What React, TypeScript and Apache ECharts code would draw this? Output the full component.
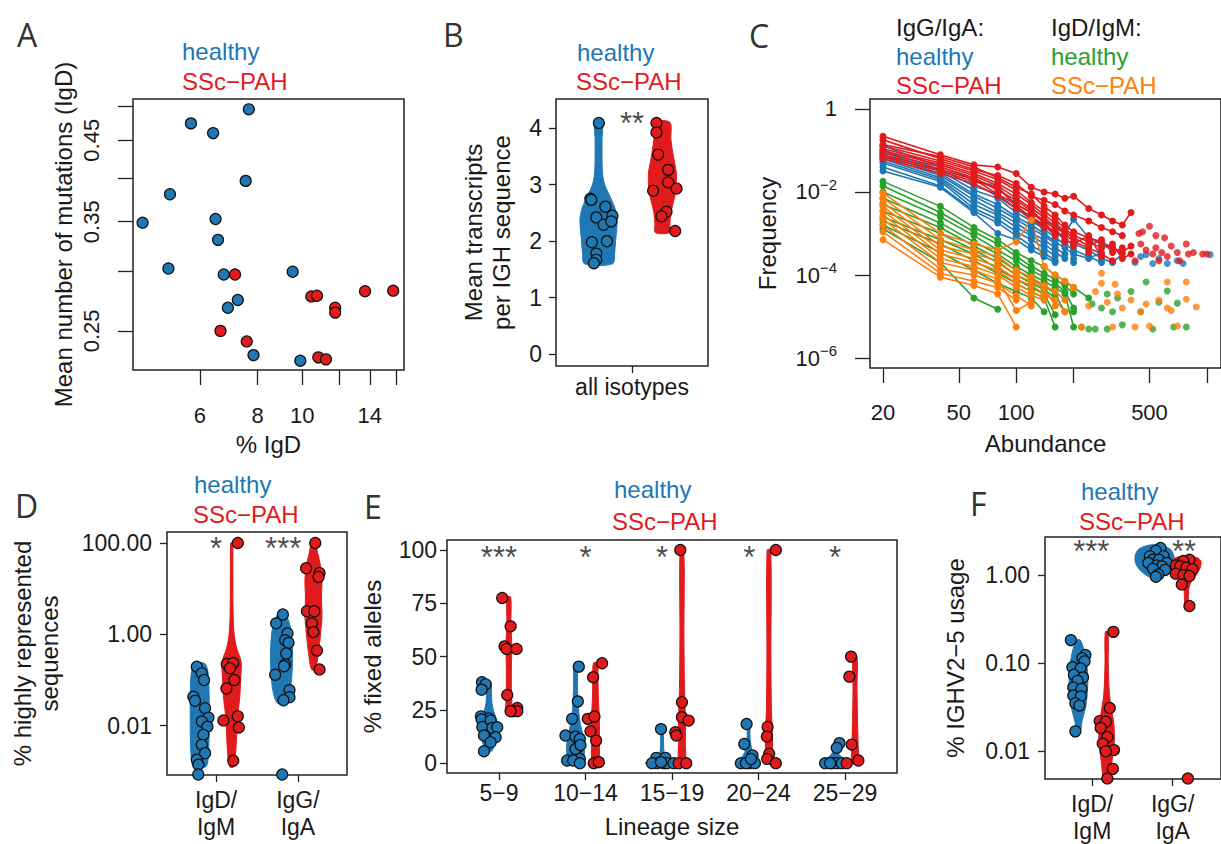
import React, { useEffect, useRef } from "react";
import * as echarts from "echarts";

// ---------------- colours / fonts ----------------
const BLUE = "#1f78b4";
const RED = "#e31a1c";
const GREEN = "#2ca02c";
const ORANGE = "#ff7f0e";
const INK = "#1a1a1a";
const FONT = "'Liberation Sans', Arial, Helvetica, sans-serif";

// ---------------- Panel A: % IgD vs mean mutations (log-log) ----------------
const A_HEALTHY = [
  [7.66, 0.495], [5.74, 0.474], [6.41, 0.46], [7.54, 0.397], [5.17, 0.381],
  [4.51, 0.349], [6.49, 0.353], [6.57, 0.331], [5.13, 0.303], [6.76, 0.2975],
  [9.53, 0.3], [7.25, 0.275], [6.9, 0.2685], [7.84, 0.232], [9.9, 0.228],
];
const A_SSC = [
  [7.15, 0.2975], [6.65, 0.25], [7.58, 0.242], [10.46, 0.278], [10.76, 0.2786],
  [11.78, 0.2685], [11.78, 0.2645], [13.67, 0.2825], [15.73, 0.283], [10.83, 0.2304],
  [11.25, 0.229],
];
const A_X_TICKS = [6, 8, 10, 12, 14, 16];
const A_X_LABELS = [6, 8, 10, 14];
const A_Y_TICKS = [0.25, 0.3, 0.35, 0.4, 0.45, 0.5];
const A_Y_LABELS = [0.25, 0.35, 0.45];

// ---------------- Panel B: mean transcripts per IGH sequence ----------------
const B_HEALTHY = [
  [0.782, 4.09], [0.726, 2.75], [0.732, 2.73], [0.825, 2.61], [0.765, 2.42],
  [0.871, 2.45], [0.813, 2.29], [0.864, 2.35], [0.736, 1.98], [0.835, 2.0],
  [0.765, 1.78], [0.765, 1.67], [0.749, 1.61],
];
const B_SSC = [
  [1.161, 4.09], [1.161, 3.92], [1.172, 3.53], [1.238, 3.26], [1.238, 3.04],
  [1.293, 2.93], [1.139, 2.89], [1.227, 2.52], [1.194, 2.44], [1.284, 2.18],
];
const B_VIOLIN_HEALTHY = [
  [1.6, 0.092], [1.8, 0.106], [2.0, 0.112], [2.2, 0.119], [2.4, 0.122], [2.6, 0.106],
  [2.8, 0.073], [3.0, 0.04], [3.2, 0.026], [3.5, 0.023], [3.8, 0.023], [4.1, 0.023],
];
const B_VIOLIN_SSC = [
  [2.15, 0.046], [2.3, 0.049], [2.5, 0.056], [2.7, 0.073], [2.9, 0.089], [3.2, 0.092],
  [3.4, 0.079], [3.6, 0.066], [3.8, 0.056], [4.1, 0.049],
];
const B_CENTERS = [0.78, 1.2];
const B_Y_TICKS = [0, 1, 2, 3, 4];
const B_STARS = [["**", 1.0, 4.083]];

// ---------------- Panel C: frequency vs abundance ----------------
const C_ABUNDANCE = [20, 40, 60, 80, 100, 120, 140, 160, 180, 200, 240, 280, 320, 360, 400];
const C_IGG_HEALTHY = [
  [1.3e-1, 4.0e-2, 2.0e-2, 1.3e-2, 5.0e-3, 3.2e-3, 2.0e-3, 1.6e-3, 1.0e-3, 2.2e-3, 7.9e-4, 5.6e-4, 4.0e-4],
  [1.0e-1, 3.5e-2, 1.4e-2, 8.9e-3, 4.0e-3, 2.5e-3, 1.4e-3, 1.1e-3, 7.1e-4, 5.6e-4, 4.0e-4, 2.5e-4, 2.0e-4, 3.2e-4],
  [8.9e-2, 3.2e-2, 1.1e-2, 7.1e-3, 3.2e-3, 2.0e-3, 1.3e-3, 7.9e-4, 5.6e-4, 4.0e-4, 2.8e-4, 2.0e-4],
  [7.9e-2, 2.8e-2, 8.9e-3, 5.0e-3, 2.5e-3, 1.6e-3, 1.0e-3, 6.3e-4, 4.5e-4, 3.2e-4, 2.5e-4, 3.5e-4],
  [7.1e-2, 2.5e-2, 7.9e-3, 4.0e-3, 2.2e-3, 1.3e-3, 8.9e-4, 5.6e-4, null, 2.5e-4],
  [6.3e-2, 2.2e-2, 6.3e-3, 3.2e-3, 1.8e-3, 1.0e-3, 7.1e-4, 4.5e-4, 3.2e-4],
  [5.6e-2, 2.0e-2, 5.0e-3, 2.8e-3, 1.4e-3, 8.9e-4, 5.6e-4, 3.5e-4, 2.5e-4],
  [5.0e-2, 1.8e-2, 4.0e-3, 2.2e-3, 1.1e-3, 7.1e-4, 4.5e-4, 2.8e-4, null, 2.0e-4],
  [4.0e-2, 1.4e-2, 3.5e-3, 1.8e-3, 8.9e-4, 5.0e-4, 3.5e-4, 2.2e-4],
  [3.2e-2, 1.3e-2, 3.2e-3, 1.0e-3, 7.1e-4, 4.0e-4, 2.8e-4, 2.0e-4],
];
const C_IGG_SSC = [
  [2.2e-1, 7.9e-2, 4.5e-2, 4.0e-2, 2.8e-2, 1.3e-2, 1.0e-2, 8.9e-3, 7.1e-3, 7.9e-3, 4.0e-3, 2.8e-3, 2.0e-3, 1.6e-3, 3.2e-3],
  [1.8e-1, 6.3e-2, 3.5e-2, 2.5e-2, 1.6e-2, 7.9e-3, 6.3e-3, 5.0e-3, 3.5e-3, 2.8e-3, 2.0e-3, 1.4e-3, 1.1e-3, 8.9e-4],
  [1.4e-1, 7.1e-2, 4.0e-2, 2.2e-2, 1.3e-2, 8.9e-3, 4.5e-3, 2.8e-3, 1.6e-3, 1.1e-3, 7.9e-4, 6.3e-4, 4.5e-4, 3.5e-4, 5.0e-4],
  [1.3e-1, 5.6e-2, 3.2e-2, 2.0e-2, 1.1e-2, 5.6e-3, 3.5e-3, 2.2e-3, 1.3e-3, 8.9e-4, 6.3e-4, 4.5e-4, 5.6e-4, 2.5e-4, 3.2e-4],
  [1.1e-1, 5.0e-2, 2.8e-2, 1.6e-2, 8.9e-3, 5.0e-3, 2.8e-3, 1.8e-3, 1.1e-3, 7.9e-4, 5.0e-4, 7.1e-4, 3.5e-4, 4.5e-4],
  [1.0e-1, 4.5e-2, 2.5e-2, 1.4e-2, 7.1e-3, 4.0e-3, 2.5e-3, 1.4e-3, 1.0e-3, 6.3e-4, 4.5e-4, 3.2e-4, 2.2e-4],
  [8.9e-2, 4.0e-2, 2.2e-2, 1.1e-2, 6.3e-3, 3.5e-3, 2.0e-3, 1.3e-3, 7.1e-4, 5.6e-4, 8.9e-4, 2.8e-4],
  [7.9e-2, 3.5e-2, 2.0e-2, 8.9e-3, 5.0e-3, 3.2e-3, 1.8e-3, 1.0e-3, 8.9e-4, null, 3.5e-4],
  [7.1e-2, 3.2e-2, 1.8e-2, 1.3e-2, 4.5e-3, 2.5e-3, 1.6e-3, 8.9e-4, null, 5.0e-4],
  [6.3e-2, 2.8e-2, 1.6e-2, 7.9e-3, 4.0e-3, 2.2e-3, 1.4e-3, null, 6.3e-4],
];
const C_IGD_HEALTHY = [
  [1.8e-2, 4.5e-3, 1.4e-3, 7.1e-4, 3.5e-4, 2.2e-4, 1.6e-4, 1.0e-4, 7.1e-5, 5.0e-5, 2.8e-5],
  [1.4e-2, 3.2e-3, 1.1e-3, 5.6e-4, 2.8e-4, 1.6e-4, 1.1e-4, 7.9e-5, 5.6e-5, 3.5e-5],
  [1.0e-2, 2.5e-3, 8.9e-4, 4.0e-4, 2.2e-4, 1.3e-4, 8.9e-5, 6.3e-5, 4.0e-5, 1.6e-5],
  [7.1e-3, 1.8e-3, 6.3e-4, 3.2e-4, 1.6e-4, 1.0e-4, 7.1e-5, 5.0e-5, 3.5e-5, 5.6e-6],
  [5.0e-3, 1.4e-3, 5.0e-4, 2.5e-4, 1.3e-4, 7.9e-5, 5.6e-5, 3.5e-5, 1.3e-5],
  [3.5e-3, 1.0e-3, 4.0e-4, 2.0e-4, 1.0e-4, 6.3e-5, 4.5e-5, 2.8e-5, null, 1.3e-5],
  [2.5e-3, 7.1e-4, 3.2e-4, 1.4e-4, 7.9e-5, 5.0e-5, 3.5e-5, 1.1e-5],
  [2.0e-3, 5.6e-4, 2.2e-4, 1.1e-4, 6.3e-5, 4.0e-5, 2.8e-5, 5.6e-6],
  [1.6e-3, 3.5e-4, 1.3e-4, 6.3e-5, 4.0e-5, 2.8e-5, 1.3e-5],
  [1.3e-3, 2.0e-4, 2.8e-5, 1.5e-5],
];
const C_IGD_SSC = [
  [9.5e-3, 1.0e-3, 5.6e-4, 4.0e-4, 6.3e-4, 2.1e-3, 1.6e-4, 1.0e-4, 7.1e-5, 5.0e-5],
  [7.1e-3, 7.1e-4, 4.0e-4, 2.8e-4, 1.3e-4, 8.9e-5, 5.6e-5, 4.0e-5, 2.5e-5],
  [5.6e-3, 5.0e-4, 3.2e-4, 2.2e-4, 1.0e-4, 7.1e-5, 5.0e-5, 1.8e-5],
  [4.5e-3, 4.0e-4, 2.5e-4, 1.6e-4, 7.9e-5, 5.6e-5, 3.5e-5, 2.5e-5, 1.3e-5],
  [3.5e-3, 3.2e-4, 2.0e-4, 1.3e-4, 6.3e-5, 4.0e-5, 2.8e-5],
  [2.8e-3, 2.5e-4, 1.6e-4, 1.0e-4, 5.0e-5, 3.2e-5, 2.5e-5],
  [2.2e-3, 2.0e-4, 1.3e-4, 7.9e-5, 1.4e-5, 2.2e-5],
  [1.6e-3, 1.4e-4, 1.0e-4, 6.3e-5, 3.2e-5, 1.8e-5],
  [1.1e-3, 1.1e-4, 7.1e-5, 5.0e-5, 2.5e-5],
  [7.1e-4, 8.9e-5, 5.6e-5, 3.5e-5, 5.6e-6],
];
const C_IGG_HEALTHY_TAIL = [
  [420, 2.0e-4], [450, 2.8e-4], [480, 3.1e-4], [520, 1.9e-4], [560, 2.5e-4],
  [620, 1.9e-4], [700, 2.2e-4], [750, 1.9e-4], [1040, 3.1e-4],
];
const C_IGG_SSC_TAIL = [
  [420, 2.2e-4], [440, 1.0e-3], [450, 5.6e-4], [460, 1.1e-3], [480, 4.0e-4], [500, 1.5e-3],
  [520, 3.2e-4], [540, 4.5e-4], [540, 8.9e-4], [560, 2.2e-4], [580, 3.5e-4], [600, 7.9e-4],
  [620, 2.8e-4], [650, 5.0e-4], [700, 3.5e-4], [720, 2.2e-4], [780, 5.6e-4], [800, 3.2e-4],
  [850, 3.5e-4], [950, 3.2e-4], [1000, 3.2e-4],
];
const C_IGD_HEALTHY_TAIL = [
  [220, 5.6e-6], [240, 5.0e-6], [250, 2.0e-5], [260, 5.0e-6], [280, 1.6e-5], [300, 5.0e-6],
  [300, 3.5e-5], [320, 1.3e-5], [340, 2.8e-5], [360, 6.3e-6], [400, 4.0e-5], [450, 1.3e-5],
  [480, 6.8e-5], [520, 5.0e-6], [560, 2.2e-5], [620, 4.1e-5], [670, 5.6e-6], [700, 2.1e-5],
  [780, 5.6e-6],
];
const C_IGD_SSC_TAIL = [
  [220, 5.6e-6], [240, 1.8e-5], [260, 4.0e-5], [280, 6.3e-5], [280, 1.1e-4], [300, 2.2e-5],
  [320, 5.6e-6], [330, 6.0e-5], [340, 3.5e-5], [360, 1.6e-5], [400, 2.5e-5], [420, 5.6e-6],
  [450, 1.3e-5], [480, 2.0e-5], [500, 5.9e-6], [560, 2.5e-5], [620, 6.8e-5], [620, 1.6e-5],
  [650, 1.4e-5], [700, 5.9e-6], [780, 6.8e-5], [780, 2.6e-5], [880, 1.7e-5],
];
const C_X_TICKS = [20, 50, 100, 200, 500, 1000];
const C_X_LABELS = [20, 50, 100, 500];
const C_Y_TICKS = [1e-6, 1e-4, 1e-2, 1];

// ---------------- Panel D: % highly represented sequences ----------------
const D_CATEGORIES = ["IgD/\nIgM", "IgG/\nIgA"];
const D_IGD_HEALTHY = [
  [0.764, 0.195], [0.825, 0.14], [0.853, 0.1], [0.722, 0.043], [0.743, 0.035],
  [0.865, 0.024], [0.906, 0.015], [0.825, 0.0123], [0.894, 0.0095], [0.845, 0.0063],
  [0.825, 0.0038], [0.865, 0.0025], [0.764, 0.0018], [0.783, 0.0014], [0.783, 0.00085],
];
const D_IGD_SSC = [
  [1.265, 100], [1.13, 0.224], [1.21, 0.234], [1.17, 0.18], [1.224, 0.1],
  [1.126, 0.065], [1.09, 0.013], [1.265, 0.016], [1.278, 0.0091], [1.21, 0.0017],
];
const D_IGG_HEALTHY = [
  [1.816, 2.72], [1.734, 1.74], [1.873, 1.05], [1.845, 0.74], [1.885, 0.65],
  [1.857, 0.38], [1.722, 0.13], [1.845, 0.22], [1.83, 0.2], [1.897, 0.06],
  [1.897, 0.042], [1.824, 0.036], [1.808, 0.00085],
];
const D_IGG_SSC = [
  [2.212, 100], [2.1, 28], [2.264, 22], [2.252, 18], [2.11, 3.2],
  [2.2, 3.2], [2.171, 1.74], [2.19, 1.12], [2.233, 0.44], [2.264, 0.17],
];
const D_VIOLIN_IGD_HEALTHY = [[0.23, 0.061], [0.16, 0.098], [0.1, 0.11], [0.03, 0.116], [0.01, 0.116], [0.003, 0.11], [0.0016, 0.098], [0.00125, 0.073]];
const D_VIOLIN_IGD_SSC = [[100, 0.012], [30, 0.015], [3, 0.018], [1, 0.031], [0.5, 0.061], [0.25, 0.116], [0.1, 0.11], [0.04, 0.098], [0.016, 0.073], [0.006, 0.061], [0.0025, 0.049], [0.00125, 0.024]];
const D_VIOLIN_IGG_HEALTHY = [[3.1, 0.024], [2, 0.086], [1, 0.122], [0.3, 0.135], [0.1, 0.122], [0.05, 0.098], [0.031, 0.049]];
const D_VIOLIN_IGG_SSC = [[100, 0.024], [63, 0.049], [31.6, 0.086], [15.8, 0.104], [6.3, 0.098], [2.5, 0.104], [1, 0.086], [0.4, 0.061], [0.17, 0.024]];
const D_VIOLIN_CENTERS = [0.8, 1.19, 1.8, 2.19];
const D_Y_TICKS = [0.01, 1, 100];
const D_STARS = [["*", 1.0, 77.6], ["***", 1.82, 77.6]];

// ---------------- Panel E: % fixed alleles by lineage size ----------------
const E_CATEGORIES = ["5−9", "10−14", "15−19", "20−24", "25−29"];
const E_HEALTHY = [
  [0.804, 38], [0.846, 37], [0.8, 34.5], [0.792, 22], [0.885, 21], [0.8, 20.5], [0.904, 20],
  [0.808, 17], [0.923, 16.5], [0.981, 16.9], [0.827, 13], [0.962, 12.2], [0.904, 9.8], [0.827, 5.6],
  [1.923, 45.3], [1.912, 29], [1.846, 20.8], [1.769, 13], [1.885, 12.5], [1.935, 11.4], [1.912, 7.5],
  [1.885, 6.7], [1.942, 8.5], [1.788, 1.25], [1.935, 2], [1.858, 1.25], [1.935, 0],
  [2.873, 16], [2.819, 2.5], [2.923, 2.5], [2.827, 0], [2.904, 0], [2.942, 0], [2.769, 0], [3.019, 0], [2.873, 0.5],
  [3.862, 18.4], [3.835, 9], [3.931, 3.6], [3.796, 0], [3.892, 0], [3.958, 0], [3.854, 0], [3.912, 2],
  [4.935, 9.4], [4.904, 7.2], [4.769, 0], [4.846, 0], [4.904, 0], [4.962, 0], [4.827, 0],
];
const E_SSC = [
  [1.038, 77.5], [1.135, 64.2], [1.065, 54.8], [1.088, 53.6], [1.204, 53.6], [1.096, 32],
  [1.212, 25.9], [1.154, 24.4], [1.212, 24.4], [1.135, 24.4],
  [2.192, 46.9], [2.088, 40.3], [2.027, 20.8], [2.104, 21.9], [2.058, 15], [2.123, 10.6], [2.096, 0], [2.154, 0.5],
  [3.096, 100], [3.115, 28.6], [3.115, 21.6], [3.192, 20], [3.038, 14.5], [3.05, 13], [3.077, 0], [3.165, 0],
  [4.2, 100], [4.104, 17], [4.096, 12.5], [4.123, 4.4], [4.1, 2], [4.2, 0],
  [5.069, 50], [5.05, 40.6], [5.077, 8.75], [5.154, 1.25], [5.019, 0],
];
const E_VIOLINS_HEALTHY = [
  [[38, 0.023], [33, 0.029], [28, 0.035], [24, 0.058], [20, 0.092], [16, 0.104], [12, 0.092], [8, 0.058], [5.6, 0.029]],
  [[46, 0.017], [35, 0.023], [25, 0.035], [18, 0.058], [12, 0.092], [6, 0.104], [2, 0.092], [0, 0.069]],
  [[16, 0.012], [10, 0.017], [5, 0.023], [3, 0.04], [2, 0.081], [1, 0.138], [0, 0.196]],
  [[18, 0.012], [12, 0.017], [8, 0.029], [5, 0.046], [2.5, 0.081], [1, 0.115], [0, 0.127]],
  [[9, 0.012], [6, 0.023], [4, 0.046], [2.5, 0.092], [1, 0.138], [0, 0.15]],
];
const E_VIOLINS_SSC = [
  [[78, 0.021], [65, 0.023], [55, 0.035], [45, 0.029], [35, 0.029], [28, 0.035], [24, 0.035]],
  [[47, 0.023], [40, 0.029], [30, 0.035], [20, 0.046], [10, 0.046], [0, 0.035]],
  [[100, 0.021], [60, 0.023], [35, 0.029], [20, 0.04], [10, 0.04], [0, 0.035]],
  [[100, 0.021], [50, 0.023], [25, 0.029], [15, 0.04], [5, 0.04], [0, 0.029]],
  [[50, 0.023], [35, 0.023], [20, 0.029], [10, 0.035], [0, 0.035]],
];
const E_CENTERS_HEALTHY = [0.885, 1.885, 2.885, 3.885, 4.885];
const E_CENTERS_SSC = [1.115, 2.115, 3.115, 4.12, 5.115];
const E_Y_TICKS = [0, 25, 50, 75, 100];
const E_STARS = [["***", 1.0, 96.6], ["*", 2.0, 96.6], ["*", 2.885, 96.6], ["*", 3.892, 96.6], ["*", 4.885, 96.6]];

// ---------------- Panel F: % IGHV2-5 usage ----------------
const F_CATEGORIES = ["IgD/\nIgM", "IgG/\nIgA"];
const F_IGD_HEALTHY = [
  [0.736, 0.183], [0.917, 0.124], [0.879, 0.114], [0.906, 0.105], [0.755, 0.09], [0.857, 0.087],
  [0.774, 0.074], [0.887, 0.069], [0.819, 0.063], [0.766, 0.053], [0.868, 0.051], [0.766, 0.043],
  [0.86, 0.042], [0.792, 0.035], [0.842, 0.033], [0.792, 0.0168],
];
const F_IGD_SSC = [
  [1.264, 0.227], [1.219, 0.031], [1.094, 0.022], [1.17, 0.0216], [1.106, 0.0184], [1.189, 0.0145],
  [1.132, 0.0122], [1.272, 0.0103], [1.17, 0.01], [1.257, 0.0063], [1.189, 0.0049],
];
const F_IGG_HEALTHY = [
  [1.849, 2.04], [1.792, 1.9], [1.887, 1.64], [1.717, 1.64], [1.755, 1.5], [1.83, 1.5], [1.698, 1.38],
  [1.925, 1.38], [1.8, 1.29], [1.868, 1.26], [1.755, 1.18], [1.906, 1.15], [1.823, 1.02], [1.792, 0.96],
];
const F_IGG_SSC = [
  [2.208, 1.5], [2.132, 1.45], [2.038, 1.29], [2.094, 1.26], [2.17, 1.22], [2.245, 1.17],
  [2.038, 1.04], [2.132, 1.0], [2.208, 0.98], [2.113, 0.785], [2.208, 0.447], [2.189, 0.0049],
];
const F_VIOLIN_IGD_HEALTHY = [[0.183, 0.023], [0.13, 0.079], [0.08, 0.113], [0.05, 0.113], [0.032, 0.09], [0.022, 0.045], [0.0168, 0.023]];
const F_VIOLIN_IGD_SSC = [[0.227, 0.017], [0.1, 0.02], [0.045, 0.034], [0.032, 0.057], [0.02, 0.09], [0.0126, 0.096], [0.0079, 0.068], [0.0049, 0.034]];
const F_VIOLIN_IGG_HEALTHY = [[2.2, 0.06], [2.0, 0.19], [1.7, 0.238], [1.4, 0.238], [1.2, 0.2], [1.05, 0.136], [0.95, 0.057]];
const F_VIOLIN_IGG_SSC = [[1.6, 0.12], [1.45, 0.18], [1.2, 0.17], [1.0, 0.12], [0.85, 0.06], [0.7, 0.03], [0.5, 0.023], [0.447, 0.017]];
const F_VIOLIN_CENTERS = [0.83, 1.18, 1.774, 2.17];
const F_Y_TICKS = [0.01, 0.1, 1];
const F_STARS = [["***", 0.99, 1.85], ["**", 2.14, 1.85]];

// ---------------- helpers ----------------
const L = (v: number) => Math.log10(v);
const ID = (v: number) => v;

function valueAxis(o: any) {
  return {
    type: "value",
    gridIndex: o.grid,
    min: o.min,
    max: o.max,
    axisLine: { show: false, onZero: false },
    axisTick: { show: true, inside: false, length: o.tickLen, customValues: o.ticks, lineStyle: { color: "#222", width: 1.3 } },
    axisLabel: {
      show: true,
      customValues: o.labels,
      formatter: o.fmt,
      margin: o.margin,
      rotate: o.rotate || 0,
      fontSize: o.fontSize || 22,
      fontFamily: FONT,
      color: INK,
      lineHeight: o.lineHeight,
      rich: o.rich,
    },
    splitLine: { show: false },
    name: o.name,
    nameLocation: "middle",
    nameGap: o.nameGap,
    nameTextStyle: { fontSize: 24, fontFamily: FONT, color: INK, lineHeight: o.nameLineHeight },
  };
}

function pointsSeries(ai: number, pts: number[][], color: string, ty: (v: number) => number) {
  return {
    type: "scatter",
    xAxisIndex: ai,
    yAxisIndex: ai,
    z: 4,
    silent: true,
    symbol: "circle",
    symbolSize: 11,
    itemStyle: { color, borderColor: "#111", borderWidth: 1.2, opacity: 1 },
    data: pts.map(([x, y]) => [x, ty(y)]),
  };
}

function violinSeries(ai: number, center: number, profile: number[][], color: string, ty: (v: number) => number) {
  return {
    type: "custom",
    xAxisIndex: ai,
    yAxisIndex: ai,
    z: 2,
    silent: true,
    data: [[center, ty(profile[0][0])]],
    renderItem: (_params: any, api: any) => {
      const left = profile.map(([v, hw]) => api.coord([center - hw, ty(v)]));
      const right = profile.map(([v, hw]) => api.coord([center + hw, ty(v)])).reverse();
      return {
        type: "polygon",
        shape: { points: left.concat(right), smooth: 0.3 },
        style: { fill: color, stroke: color, lineWidth: 1 },
        silent: true,
      };
    },
  };
}

function starSeries(ai: number, stars: any[], ty: (v: number) => number) {
  return {
    type: "scatter",
    xAxisIndex: ai,
    yAxisIndex: ai,
    z: 5,
    silent: true,
    symbolSize: 1,
    itemStyle: { color: "rgba(0,0,0,0)" },
    label: { show: true, position: "inside", formatter: "{b}", fontSize: 31, fontFamily: FONT, color: INK },
    data: stars.map(([t, x, y]) => ({ name: t, value: [x, ty(y)] })),
  };
}

function cLines(lines: (number | null)[][], color: string) {
  return lines.map((line) => ({
    type: "line",
    xAxisIndex: 2,
    yAxisIndex: 2,
    z: 2,
    silent: true,
    symbol: "circle",
    symbolSize: 7,
    showSymbol: true,
    connectNulls: false,
    lineStyle: { width: 1.6, color },
    itemStyle: { color },
    data: C_ABUNDANCE.map((a, i) => [L(a), line[i] == null ? "-" : L(line[i] as number)]),
  }));
}

function cTail(pts: number[][], color: string) {
  return {
    type: "scatter",
    xAxisIndex: 2,
    yAxisIndex: 2,
    z: 2,
    silent: true,
    symbol: "circle",
    symbolSize: 7,
    itemStyle: { color },
    data: pts.map(([a, f]) => [L(a), L(f)]),
  };
}

function txt(text: string, x: number, y: number, fill: string, size = 24, family = FONT) {
  return {
    type: "text",
    x,
    y,
    silent: true,
    style: {
      text,
      fill,
      fontSize: size,
      fontFamily: family,
      textAlign: "left",
      textVerticalAlign: "middle",
      align: "left",
      verticalAlign: "middle",
    },
  };
}

function buildOption() {
  const gridStyle = { show: true, borderColor: "#222", borderWidth: 1.5, backgroundColor: "transparent" };
  const grid = [
    { left: 133, top: 99, width: 271, height: 271 },
    { left: 556, top: 99, width: 152, height: 267 },
    { left: 870, top: 99, width: 356, height: 269 },
    { left: 167, top: 532, width: 180, height: 243 },
    { left: 447, top: 540, width: 450, height: 233 },
    { left: 1045, top: 537, width: 193, height: 244 },
  ].map((g) => ({ ...g, ...gridStyle }));

  const fixed2 = (v: number) => Math.pow(10, v).toFixed(2);

  const xAxis = [
    valueAxis({ grid: 0, min: L(4.3), max: L(16.6), ticks: A_X_TICKS.map(L), labels: A_X_LABELS.map(L), fmt: (v: number) => String(Math.round(Math.pow(10, v))), tickLen: 15, margin: 34, name: "% IgD", nameGap: 62 }),
    valueAxis({ grid: 1, min: 0.5, max: 1.5, ticks: [1], labels: [1], fmt: () => "all isotypes", tickLen: 7, margin: 9, fontSize: 23 }),
    valueAxis({ grid: 2, min: L(17.1), max: L(1186), ticks: C_X_TICKS.map(L), labels: C_X_LABELS.map(L), fmt: (v: number) => String(Math.round(Math.pow(10, v))), tickLen: 15, margin: 33, name: "Abundance", nameGap: 63 }),
    valueAxis({ grid: 3, min: 0.4, max: 2.6, ticks: [1, 2], labels: [1, 2], fmt: (v: number) => D_CATEGORIES[Math.round(v) - 1], tickLen: 7, margin: 11, fontSize: 23, lineHeight: 27 }),
    valueAxis({ grid: 4, min: 0.4, max: 5.6, ticks: [1, 2, 3, 4, 5], labels: [1, 2, 3, 4, 5], fmt: (v: number) => E_CATEGORIES[Math.round(v) - 1], tickLen: 7, margin: 8, fontSize: 23, name: "Lineage size", nameGap: 41 }),
    valueAxis({ grid: 5, min: 0.415, max: 2.6, ticks: [1, 2], labels: [1, 2], fmt: (v: number) => F_CATEGORIES[Math.round(v) - 1], tickLen: 7, margin: 11, fontSize: 23, lineHeight: 27 }),
  ];

  const yAxis = [
    valueAxis({ grid: 0, min: L(0.2216), max: L(0.511), ticks: A_Y_TICKS.map(L), labels: A_Y_LABELS.map(L), fmt: fixed2, tickLen: 15, margin: 31, rotate: 90, name: "Mean number of mutations (IgD)", nameGap: 58 }),
    valueAxis({ grid: 1, min: -0.207, max: 4.513, ticks: B_Y_TICKS, labels: B_Y_TICKS, fmt: (v: number) => String(v), tickLen: 7, margin: 14, fontSize: 23, name: "Mean transcripts\nper IGH sequence", nameGap: 41, nameLineHeight: 28 }),
    valueAxis({
      grid: 2, min: -6.24, max: 0.24, ticks: C_Y_TICKS.map(L), labels: C_Y_TICKS.map(L),
      fmt: (v: number) => { const e = Math.round(v); return e === 0 ? "1" : "10{sup|−" + (-e) + "}"; },
      tickLen: 15, margin: 33, lineHeight: 30,
      rich: { sup: { fontSize: 15, fontFamily: FONT, color: INK, verticalAlign: "top", lineHeight: 15 } },
      name: "Frequency", nameGap: 91,
    }),
    valueAxis({ grid: 3, min: L(0.00083), max: L(174), ticks: D_Y_TICKS.map(L), labels: D_Y_TICKS.map(L), fmt: fixed2, tickLen: 7, margin: 15, fontSize: 23, name: "% highly represented\nsequences", nameGap: 104, nameLineHeight: 27 }),
    valueAxis({ grid: 4, min: -4.6, max: 104.7, ticks: E_Y_TICKS, labels: E_Y_TICKS, fmt: (v: number) => String(v), tickLen: 7, margin: 10, fontSize: 23, name: "% fixed alleles", nameGap: 63 }),
    valueAxis({ grid: 5, min: -2.316, max: 0.434, ticks: F_Y_TICKS.map(L), labels: F_Y_TICKS.map(L), fmt: fixed2, tickLen: 7, margin: 15, fontSize: 23, name: "% IGHV2−5 usage", nameGap: 78 }),
  ];

  const series: any[] = [];
  // A
  series.push(pointsSeries(0, A_HEALTHY.map(([x, y]) => [L(x), y]), BLUE, L));
  series.push(pointsSeries(0, A_SSC.map(([x, y]) => [L(x), y]), RED, L));
  // B
  series.push(violinSeries(1, B_CENTERS[0], B_VIOLIN_HEALTHY, BLUE, ID));
  series.push(violinSeries(1, B_CENTERS[1], B_VIOLIN_SSC, RED, ID));
  series.push(pointsSeries(1, B_HEALTHY, BLUE, ID));
  series.push(pointsSeries(1, B_SSC, RED, ID));
  series.push(starSeries(1, B_STARS, ID));
  // C
  series.push(...cLines(C_IGG_HEALTHY, BLUE));
  series.push(cTail(C_IGG_HEALTHY_TAIL, BLUE));
  series.push(...cLines(C_IGG_SSC, RED));
  series.push(cTail(C_IGG_SSC_TAIL, RED));
  series.push(...cLines(C_IGD_HEALTHY, GREEN));
  series.push(cTail(C_IGD_HEALTHY_TAIL, GREEN));
  series.push(...cLines(C_IGD_SSC, ORANGE));
  series.push(cTail(C_IGD_SSC_TAIL, ORANGE));
  // D
  series.push(violinSeries(3, D_VIOLIN_CENTERS[0], D_VIOLIN_IGD_HEALTHY, BLUE, L));
  series.push(violinSeries(3, D_VIOLIN_CENTERS[1], D_VIOLIN_IGD_SSC, RED, L));
  series.push(violinSeries(3, D_VIOLIN_CENTERS[2], D_VIOLIN_IGG_HEALTHY, BLUE, L));
  series.push(violinSeries(3, D_VIOLIN_CENTERS[3], D_VIOLIN_IGG_SSC, RED, L));
  series.push(pointsSeries(3, D_IGD_HEALTHY, BLUE, L));
  series.push(pointsSeries(3, D_IGD_SSC, RED, L));
  series.push(pointsSeries(3, D_IGG_HEALTHY, BLUE, L));
  series.push(pointsSeries(3, D_IGG_SSC, RED, L));
  series.push(starSeries(3, D_STARS, L));
  // E
  E_VIOLINS_HEALTHY.forEach((p, i) => series.push(violinSeries(4, E_CENTERS_HEALTHY[i], p, BLUE, ID)));
  E_VIOLINS_SSC.forEach((p, i) => series.push(violinSeries(4, E_CENTERS_SSC[i], p, RED, ID)));
  series.push(pointsSeries(4, E_HEALTHY, BLUE, ID));
  series.push(pointsSeries(4, E_SSC, RED, ID));
  series.push(starSeries(4, E_STARS, ID));
  // F
  series.push(violinSeries(5, F_VIOLIN_CENTERS[0], F_VIOLIN_IGD_HEALTHY, BLUE, L));
  series.push(violinSeries(5, F_VIOLIN_CENTERS[1], F_VIOLIN_IGD_SSC, RED, L));
  series.push(violinSeries(5, F_VIOLIN_CENTERS[2], F_VIOLIN_IGG_HEALTHY, BLUE, L));
  series.push(violinSeries(5, F_VIOLIN_CENTERS[3], F_VIOLIN_IGG_SSC, RED, L));
  series.push(pointsSeries(5, F_IGD_HEALTHY, BLUE, L));
  series.push(pointsSeries(5, F_IGD_SSC, RED, L));
  series.push(pointsSeries(5, F_IGG_HEALTHY, BLUE, L));
  series.push(pointsSeries(5, F_IGG_SSC, RED, L));
  series.push(starSeries(5, F_STARS, L));

  const LETTER_FONT = "'Open Sans', 'Noto Sans', sans-serif";
  const graphicEls = [
    txt("A", 17, 34, "#333", 32, LETTER_FONT),
    txt("B", 443, 34, "#333", 32, LETTER_FONT),
    txt("C", 749, 35, "#333", 32, LETTER_FONT),
    txt("D", 15, 505, "#333", 32, LETTER_FONT),
    txt("E", 364, 506, "#333", 32, LETTER_FONT),
    txt("F", 970, 503, "#333", 32, LETTER_FONT),
    // legends
    txt("healthy", 182, 51, BLUE), txt("SSc−PAH", 182, 81, RED),
    txt("healthy", 577, 52, BLUE), txt("SSc−PAH", 576, 81, RED),
    txt("IgG/IgA:", 896, 27, INK), txt("healthy", 896, 56, BLUE), txt("SSc−PAH", 896, 85, RED),
    txt("IgD/IgM:", 1051, 27, INK), txt("healthy", 1051, 56, GREEN), txt("SSc−PAH", 1051, 85, ORANGE),
    txt("healthy", 194, 484, BLUE), txt("SSc−PAH", 193, 514, RED),
    txt("healthy", 614, 489, BLUE), txt("SSc−PAH", 612, 521, RED),
    txt("healthy", 1081, 491, BLUE), txt("SSc−PAH", 1079, 521, RED),
  ];

  return {
    animation: false,
    backgroundColor: "#ffffff",
    grid,
    xAxis,
    yAxis,
    series,
    graphic: { elements: graphicEls },
  };
}

export default function App() {
  const ref = useRef<HTMLDivElement>(null);
  useEffect(() => {
    if (!ref.current) return;
    const chart = echarts.init(ref.current, null, { renderer: "svg" });
    chart.setOption(buildOption() as any);
    return () => chart.dispose();
  }, []);
  return (
    <div
      ref={ref}
      style={{ position: "absolute", left: 0, top: 0, width: 1221, height: 844, background: "#fff", overflow: "hidden" }}
    />
  );
}
